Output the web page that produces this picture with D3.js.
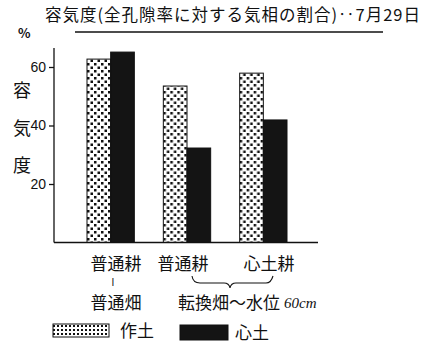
<!DOCTYPE html>
<html>
<head>
<meta charset="utf-8">
<script src="https://cdn.jsdelivr.net/npm/d3@7"></script>
<style>
body { margin: 0; background: #fff; }
text { font-family: "Noto Sans CJK JP", sans-serif; fill: #111; }
</style>
</head>
<body>
<script>
// data
let groups = ["g1", "g2", "g3"];
let series = ["作土", "心土"];
let sakudo = [62.7, 53.5, 57.9];
let shindo = [65.1, 32.3, 41.9];
let yTicks = [20, 40, 60];

let width = 428, height = 348;

let svg = d3.select("body").append("svg")
  .attr("width", width)
  .attr("height", height);

// dot pattern for 作土
let defs = svg.append("defs");
let pat = defs.append("pattern")
  .attr("id", "dots")
  .attr("patternUnits", "userSpaceOnUse")
  .attr("width", 7).attr("height", 7);
pat.append("rect").attr("width", 7).attr("height", 7).attr("fill", "#fff");
pat.append("rect").attr("x", 0).attr("y", 0).attr("width", 2.5).attr("height", 2.5).attr("fill", "#111");
pat.append("rect").attr("x", 3.5).attr("y", 3.5).attr("width", 2.5).attr("height", 2.5).attr("fill", "#111");

let pat2 = defs.append("pattern")
  .attr("id", "dots2")
  .attr("patternUnits", "userSpaceOnUse")
  .attr("width", 4).attr("height", 4);
pat2.append("rect").attr("width", 4).attr("height", 4).attr("fill", "#fff");
pat2.append("rect").attr("x", 1).attr("y", 1).attr("width", 2).attr("height", 2).attr("fill", "#111");

let x = d3.scaleBand()
  .domain(groups)
  .range([87, 287])
  .paddingInner(0.38)
  .paddingOuter(0);

let xs = d3.scaleBand().domain(series).range([0, x.bandwidth()]);

let y = d3.scaleLinear()
  .domain([0, 20])
  .range([242.5, 184]);

let rows = groups.map((g, i) => ({g: g, vals: [sakudo[i], shindo[i]]}));

let g = svg.selectAll(".grp")
  .data(rows)
  .enter().append("g")
  .attr("transform", d => "translate(" + x(d.g) + ",0)");

g.selectAll("rect")
  .data(d => d.vals.map((v, k) => ({s: series[k], v: v})))
  .enter().append("rect")
  .attr("x", d => xs(d.s))
  .attr("y", d => y(d.v))
  .attr("width", xs.bandwidth())
  .attr("height", d => y(0) - y(d.v))
  .attr("fill", d => d.s == "作土" ? "url(#dots)" : "#141414")
  .attr("stroke", "#111")
  .attr("stroke-width", 1);

// axes
svg.append("line")
  .attr("x1", 54).attr("x2", 54)
  .attr("y1", 48).attr("y2", y(0))
  .attr("stroke", "#111").attr("stroke-width", 1.3);
svg.append("line")
  .attr("x1", 54).attr("x2", 318)
  .attr("y1", y(0)).attr("y2", y(0))
  .attr("stroke", "#111").attr("stroke-width", 1.3);

let yAxis = svg.append("g")
  .attr("transform", "translate(54,0)")
  .call(d3.axisLeft(y).tickValues(yTicks).tickSize(5).tickPadding(3));
yAxis.select(".domain").remove();
yAxis.selectAll("line").attr("stroke", "#111").attr("stroke-width", 1.3);
yAxis.selectAll("text")
  .style("font-family", "Liberation Sans, sans-serif")
  .attr("font-size", 14)
  .attr("fill", "#111");

// title
svg.append("text")
  .attr("x", 45).attr("y", 21)
  .attr("font-size", 16.5)
  .attr("textLength", 375)
  .text("容気度(全孔隙率に対する気相の割合)‥7月29日");
svg.append("line")
  .attr("x1", 75).attr("x2", 383)
  .attr("y1", 32).attr("y2", 32)
  .attr("stroke", "#111").attr("stroke-width", 1.3);

svg.append("text")
  .attr("x", 18).attr("y", 38)
  .attr("font-size", 13)
  .attr("font-weight", "bold")
  .text("%");

// y label
["容", "気", "度"].forEach((c, i) => {
  svg.append("text")
    .attr("x", 13).attr("y", 97 + i * 37.5)
    .attr("font-size", 18)
    .text(c);
});

// category labels
let cat = [
  {t: "普通耕", x: 116, y: 270},
  {t: "普通畑", x: 116, y: 309},
  {t: "普通耕", x: 183, y: 270},
  {t: "心土耕", x: 269, y: 270}
];
svg.selectAll(".cat")
  .data(cat)
  .enter().append("text")
  .attr("x", d => d.x).attr("y", d => d.y)
  .attr("text-anchor", "middle")
  .attr("font-size", 17)
  .text(d => d.t);

svg.append("text")
  .attr("x", 113).attr("y", 286)
  .attr("text-anchor", "middle")
  .attr("font-size", 10)
  .style("font-family", "Liberation Sans, sans-serif")
  .text("I");

svg.append("path")
  .attr("d", "M192,276 Q193,283 200,283 L224,283 Q229,283 230,288 Q231,283 236,283 L266,283 Q271,283 273,276")
  .attr("fill", "none")
  .attr("stroke", "#111")
  .attr("stroke-width", 1.1);

svg.append("text")
  .attr("x", 178).attr("y", 309)
  .attr("font-size", 17)
  .text("転換畑～水位");
svg.append("text")
  .attr("x", 284).attr("y", 308)
  .attr("font-size", 15)
  .attr("font-style", "italic")
  .style("font-family", "Liberation Serif, serif")
  .text("60cm");

// legend
svg.append("rect")
  .attr("x", 53).attr("y", 324).attr("width", 56).attr("height", 13)
  .attr("fill", "url(#dots2)").attr("stroke", "#111");
svg.append("text")
  .attr("x", 120).attr("y", 337).attr("font-size", 17).text(series[0]);
svg.append("rect")
  .attr("x", 180).attr("y", 325).attr("width", 48).attr("height", 15)
  .attr("fill", "#141414").attr("stroke", "#111");
svg.append("text")
  .attr("x", 235).attr("y", 339).attr("font-size", 17).text(series[1]);
</script>
</body>
</html>
